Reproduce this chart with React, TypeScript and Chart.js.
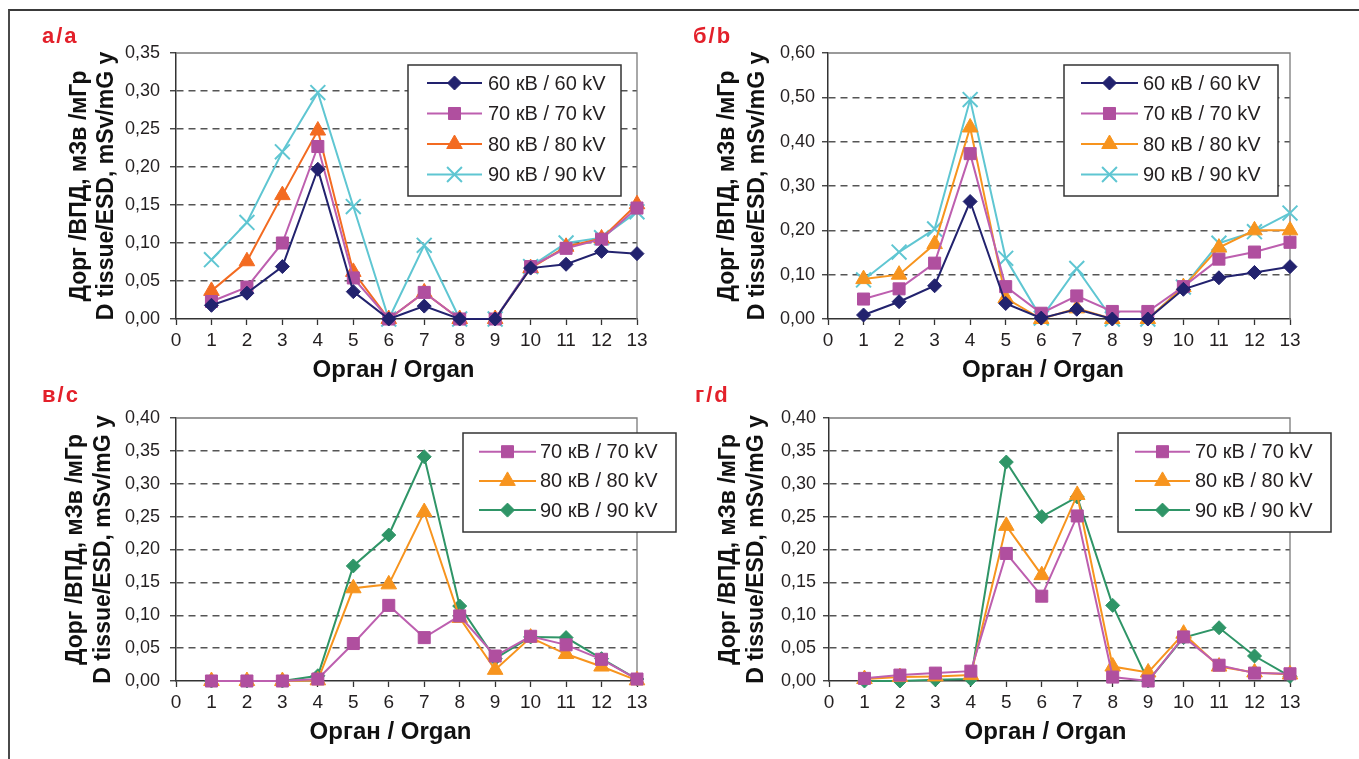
import React, { useEffect, useRef } from 'react';
import { Chart, registerables } from 'chart.js';
import { drawPoint } from 'chart.js/helpers';

Chart.register(...registerables);

// ---------- data ----------
const organs = [1, 2, 3, 4, 5, 6, 7, 8, 9, 10, 11, 12, 13];

const label60 = '60 кВ / 60 kV';
const label70 = '70 кВ / 70 kV';
const label80 = '80 кВ / 80 kV';
const label90 = '90 кВ / 90 kV';

const panelLabels = ['а/a', 'б/b', 'в/c', 'г/d'];
const yTitleLines = ['Дорг /ВПД, мЗв /мГр', 'D tissue/ESD, mSv/mG y'];
const xTitle = 'Орган / Organ';

const aKv60 = [0.018, 0.034, 0.069, 0.197, 0.036, 0, 0.017, 0, 0, 0.067, 0.072, 0.089, 0.086];
const aKv70 = [0.023, 0.042, 0.1, 0.227, 0.054, 0, 0.035, 0, 0, 0.069, 0.093, 0.105, 0.146];
const aKv80 = [0.037, 0.076, 0.163, 0.248, 0.062, 0, 0.035, 0, 0, 0.067, 0.095, 0.106, 0.151];
const aKv90 = [0.078, 0.127, 0.22, 0.298, 0.148, 0, 0.097, 0, 0, 0.069, 0.1, 0.107, 0.141];

const bKv60 = [0.009, 0.039, 0.075, 0.265, 0.035, 0.002, 0.022, 0, 0, 0.067, 0.093, 0.105, 0.118];
const bKv70 = [0.045, 0.068, 0.126, 0.373, 0.073, 0.013, 0.052, 0.017, 0.017, 0.073, 0.135, 0.151, 0.173];
const bKv80 = [0.09, 0.1, 0.169, 0.432, 0.047, 0, 0.024, 0, 0, 0.072, 0.161, 0.2, 0.2];
const bKv90 = [0.088, 0.151, 0.203, 0.495, 0.137, 0.002, 0.114, 0, 0, 0.072, 0.171, 0.197, 0.239];

const cKv70 = [0, 0, 0, 0.003, 0.057, 0.115, 0.066, 0.099, 0.038, 0.068, 0.055, 0.033, 0.003];
const cKv80 = [0, 0, 0, 0.001, 0.141, 0.147, 0.257, 0.096, 0.017, 0.066, 0.041, 0.022, 0.001];
const cKv90 = [0, 0, 0, 0.008, 0.175, 0.222, 0.341, 0.114, 0.034, 0.067, 0.066, 0.034, 0.003];

const dKv70 = [0.004, 0.009, 0.012, 0.015, 0.194, 0.129, 0.251, 0.006, 0, 0.067, 0.024, 0.012, 0.011];
const dKv80 = [0.003, 0.006, 0.007, 0.009, 0.236, 0.161, 0.283, 0.022, 0.013, 0.072, 0.022, 0.013, 0.01];
const dKv90 = [0, 0, 0.002, 0.003, 0.333, 0.25, 0.28, 0.115, 0, 0.066, 0.081, 0.038, 0.007];

// ---------- styles ----------
const FONT = "'Liberation Sans', Arial, sans-serif";
const NAVY = '#22226E';
const MAGENTA_LINE = '#BD5FAF';
const MAGENTA = '#B04F9F';
const ORANGE_A = '#F36B21';
const ORANGE = '#F7941E';
const CYAN = '#5FC6D2';
const GREEN = '#2F9567';

type SeriesStyle = { color: string; point: string; style: string; radius: number; bw: number };

const s60: SeriesStyle = { color: NAVY, point: NAVY, style: 'rectRot', radius: 7, bw: 1 };
const s70: SeriesStyle = { color: MAGENTA_LINE, point: MAGENTA, style: 'rect', radius: 8.5, bw: 1 };
const s80a: SeriesStyle = { color: ORANGE_A, point: ORANGE_A, style: 'triangle', radius: 9, bw: 1 };
const s80: SeriesStyle = { color: ORANGE, point: ORANGE, style: 'triangle', radius: 9, bw: 1 };
const s90: SeriesStyle = { color: CYAN, point: CYAN, style: 'crossRot', radius: 10.5, bw: 2 };
const s90g: SeriesStyle = { color: GREEN, point: GREEN, style: 'rectRot', radius: 7, bw: 1 };

function makeDataset(label: string, values: number[], st: SeriesStyle) {
  return {
    label,
    data: organs.map((x, i) => ({ x, y: values[i] })),
    borderColor: st.color,
    backgroundColor: st.point,
    borderWidth: 2,
    pointStyle: st.style,
    pointRadius: st.radius,
    pointHoverRadius: st.radius,
    pointBackgroundColor: st.point,
    pointBorderColor: st.point,
    pointBorderWidth: st.bw,
    tension: 0,
    clip: false,
  };
}

const decorPlugin = {
  id: 'decor',
  beforeDatasetsDraw(chart: any) {
    const { ctx, chartArea: a } = chart;
    ctx.save();
    ctx.strokeStyle = '#7a7a7a';
    ctx.lineWidth = 1.3;
    ctx.beginPath();
    ctx.moveTo(a.left, a.top);
    ctx.lineTo(a.right, a.top);
    ctx.lineTo(a.right, a.bottom);
    ctx.stroke();
    ctx.restore();
  },
  afterDraw(chart: any, _args: any, opts: any) {
    const ctx = chart.ctx;
    const a = chart.chartArea;
    const L = opts.legend;
    ctx.save();
    ctx.fillStyle = '#ffffff';
    ctx.fillRect(L.x, L.y, L.w, L.h);
    ctx.strokeStyle = '#333333';
    ctx.lineWidth = 1.5;
    ctx.strokeRect(L.x, L.y, L.w, L.h);
    chart.data.datasets.forEach((ds: any, i: number) => {
      const y = L.row0 + i * L.gap;
      ctx.setLineDash([]);
      ctx.strokeStyle = ds.borderColor;
      ctx.lineWidth = ds.borderWidth;
      ctx.beginPath();
      ctx.moveTo(L.lx1, y);
      ctx.lineTo(L.lx2, y);
      ctx.stroke();
      ctx.fillStyle = ds.pointBackgroundColor;
      ctx.strokeStyle = ds.pointBorderColor;
      ctx.lineWidth = ds.pointBorderWidth;
      drawPoint(ctx, { pointStyle: ds.pointStyle, radius: ds.pointRadius, borderWidth: ds.pointBorderWidth, rotation: 0 } as any, (L.lx1 + L.lx2) / 2, y);
      ctx.fillStyle = '#231F20';
      ctx.font = `20px ${FONT}`;
      ctx.textBaseline = 'middle';
      ctx.textAlign = 'left';
      ctx.fillText(ds.label, L.tx, y + 1);
    });
    // x axis title, centred a little left of the plot centre as in the original
    ctx.fillStyle = '#111';
    ctx.font = `bold 24px ${FONT}`;
    ctx.textAlign = 'center';
    ctx.textBaseline = 'middle';
    ctx.fillText(opts.xTitle, (a.left + a.right) / 2 + opts.xTitleShift, opts.xTitleY);
    // panel label
    ctx.textAlign = 'left';
    ctx.fillStyle = '#E3202A';
    ctx.font = `bold 22px ${FONT}`;
    ctx.textBaseline = 'alphabetic';
    try { (ctx as any).letterSpacing = '2px'; } catch (e) {}
    ctx.fillText(opts.label, opts.labelX, opts.labelY);
    ctx.restore();
  },
};

type PanelCfg = {
  pos: { left: number; top: number; width: number; height: number };
  area: { left: number; top: number; right: number; bottom: number };
  yMax: number;
  yStep: number;
  datasets: any[];
  legend: any;
  label: string;
  labelX: number;
  labelY: number;
  yTitlePad: number;
  yTitleLH: number;
  yTickPad: number;
  xTitleY: number;
  xTitleShift: number;
};

const X_AXIS_H = 65;

function Panel({ cfg }: { cfg: PanelCfg }) {
  const ref = useRef<HTMLCanvasElement>(null);
  useEffect(() => {
    if (!ref.current) return;
    const { pos, area } = cfg;
    const chart = new Chart(ref.current, {
      type: 'line',
      data: { datasets: cfg.datasets },
      plugins: [decorPlugin as any],
      options: {
        animation: false,
        responsive: false,
        events: [],
        layout: {
          padding: {
            left: 0,
            top: area.top,
            right: pos.width - area.right,
            bottom: pos.height - area.bottom - X_AXIS_H,
          },
        },
        plugins: {
          legend: { display: false },
          tooltip: { enabled: false },
          decor: {
            legend: cfg.legend,
            label: cfg.label,
            labelX: cfg.labelX,
            labelY: cfg.labelY,
            xTitle,
            xTitleY: cfg.xTitleY,
            xTitleShift: cfg.xTitleShift,
          },
        } as any,
        scales: {
          x: {
            type: 'linear',
            min: 0,
            max: 13,
            afterFit: (s: any) => { s.height = X_AXIS_H; },
            ticks: { stepSize: 1, autoSkip: false, padding: 4, color: '#231F20', font: { family: FONT, size: 19 } },
            grid: { drawOnChartArea: false, drawTicks: true, tickLength: 6, tickColor: '#333', tickWidth: 1.3 },
            border: { display: true, color: '#333', width: 1.5 },
            title: { display: false },
          },
          y: {
            type: 'linear',
            min: 0,
            max: cfg.yMax,
            afterFit: (s: any) => { s.width = area.left; },
            ticks: {
              stepSize: cfg.yStep,
              padding: cfg.yTickPad,
              color: '#231F20',
              font: { family: FONT, size: 18 },
              callback: (v: any) => Number(v).toFixed(2).replace('.', ','),
            },
            grid: {
              drawOnChartArea: true,
              drawTicks: true,
              tickLength: 6,
              tickColor: '#333',
              tickWidth: 1.3,
              lineWidth: 1.5,
              color: (c: any) => {
                const v = c.tick ? c.tick.value : 0;
                return v === 0 || Math.abs(v - cfg.yMax) < 1e-6 ? 'rgba(0,0,0,0)' : '#555555';
              },
            },
            border: { display: true, color: '#333', width: 1.5, dash: [7, 5] },
            title: {
              display: true,
              text: yTitleLines,
              color: '#111',
              font: { family: FONT, size: 23, weight: 'bold', lineHeight: `${cfg.yTitleLH}px` },
              padding: { top: cfg.yTitlePad, bottom: 0 },
            },
          },
        },
      } as any,
    });
    return () => chart.destroy();
  }, [cfg]);
  const { pos } = cfg;
  return (
    <canvas
      ref={ref}
      width={pos.width}
      height={pos.height}
      style={{ position: 'absolute', left: pos.left, top: pos.top, width: pos.width, height: pos.height }}
    />
  );
}

const panels: PanelCfg[] = [
  {
    pos: { left: 0, top: 0, width: 680, height: 395 },
    area: { left: 176, top: 53, right: 637, bottom: 319 },
    yMax: 0.35,
    yStep: 0.05,
    datasets: [
      makeDataset(label60, aKv60, s60),
      makeDataset(label70, aKv70, s70),
      makeDataset(label80, aKv80, s80a),
      makeDataset(label90, aKv90, s90),
    ],
    legend: { x: 408, y: 65, w: 213, h: 131, row0: 83, gap: 30.5, lx1: 427, lx2: 482, tx: 488 },
    label: panelLabels[0],
    labelX: 42,
    labelY: 43,
    yTitlePad: 66,
    yTitleLH: 27,
    yTickPad: 10,
    xTitleY: 370,
    xTitleShift: -13,
  },
  {
    pos: { left: 680, top: 0, width: 679, height: 395 },
    area: { left: 148, top: 53, right: 610, bottom: 319 },
    yMax: 0.6,
    yStep: 0.1,
    datasets: [
      makeDataset(label60, bKv60, s60),
      makeDataset(label70, bKv70, s70),
      makeDataset(label80, bKv80, s80),
      makeDataset(label90, bKv90, s90),
    ],
    legend: { x: 384, y: 65, w: 214, h: 131, row0: 83, gap: 30.5, lx1: 401, lx2: 458, tx: 463 },
    label: panelLabels[1],
    labelX: 13,
    labelY: 43,
    yTitlePad: 33,
    yTitleLH: 30,
    yTickPad: 7,
    xTitleY: 370,
    xTitleShift: -16,
  },
  {
    pos: { left: 0, top: 375, width: 680, height: 384 },
    area: { left: 176, top: 43, right: 637, bottom: 306 },
    yMax: 0.4,
    yStep: 0.05,
    datasets: [
      makeDataset(label70, cKv70, s70),
      makeDataset(label80, cKv80, s80),
      makeDataset(label90, cKv90, s90g),
    ],
    legend: { x: 463, y: 58, w: 213, h: 99, row0: 76.7, gap: 29.2, lx1: 479, lx2: 536, tx: 540 },
    label: panelLabels[2],
    labelX: 42,
    labelY: 27,
    yTitlePad: 62,
    yTitleLH: 28,
    yTickPad: 10,
    xTitleY: 357,
    xTitleShift: -16,
  },
  {
    pos: { left: 680, top: 375, width: 679, height: 384 },
    area: { left: 149, top: 43, right: 610, bottom: 306 },
    yMax: 0.4,
    yStep: 0.05,
    datasets: [
      makeDataset(label70, dKv70, s70),
      makeDataset(label80, dKv80, s80),
      makeDataset(label90, dKv90, s90g),
    ],
    legend: { x: 438, y: 58, w: 213, h: 99, row0: 76.7, gap: 29.2, lx1: 455, lx2: 510, tx: 515 },
    label: panelLabels[3],
    labelX: 15,
    labelY: 27,
    yTitlePad: 35,
    yTitleLH: 28,
    yTickPad: 7,
    xTitleY: 357,
    xTitleShift: -14,
  },
];

export default function App() {
  return (
    <div style={{ position: 'absolute', left: 0, top: 0, width: 1359, height: 759, background: '#fff', overflow: 'hidden' }}>
      {panels.map((p, i) => (
        <Panel key={i} cfg={p} />
      ))}
      <div
        style={{
          position: 'absolute',
          left: 8,
          top: 9,
          width: 1360,
          height: 760,
          borderTop: '2px solid #3a3a3a',
          borderLeft: '2px solid #4a4a4a',
          pointerEvents: 'none',
        }}
      />
    </div>
  );
}
